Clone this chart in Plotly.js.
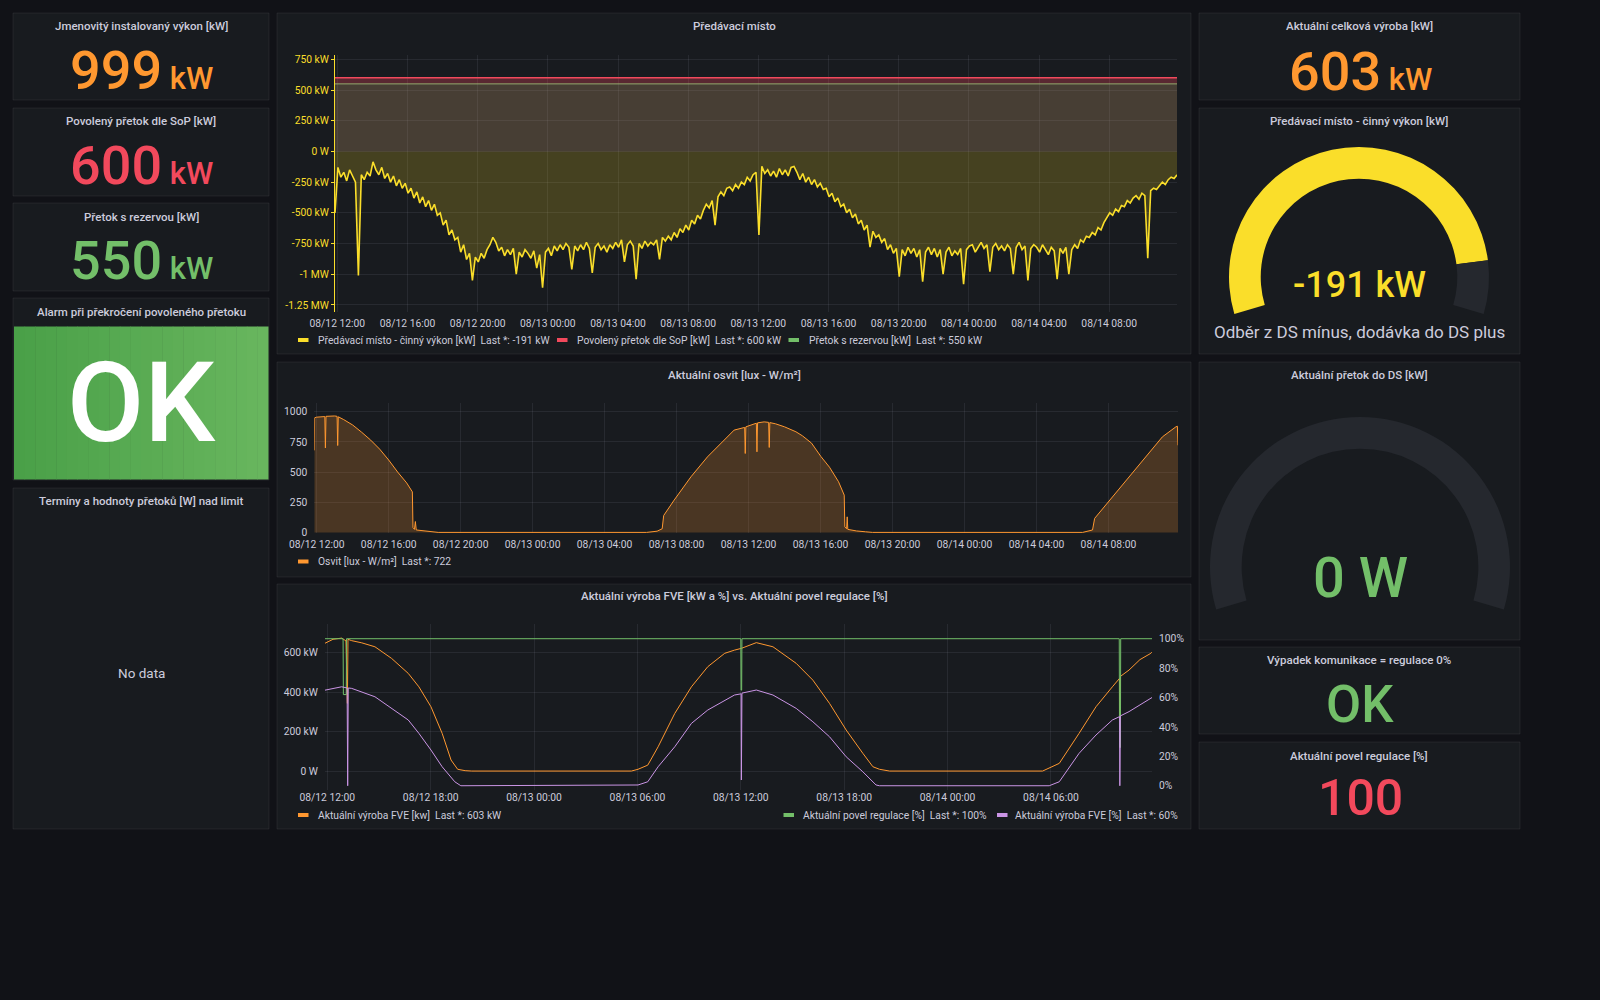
<!DOCTYPE html>
<html>
<head>
<meta charset="utf-8">
<script src="https://cdn.plot.ly/plotly-3.0.1.min.js"></script>
<style>
html,body{margin:0;padding:0;background:#111217;}
#chart{width:1600px;height:1000px;}
</style>
</head>
<body>
<div id="chart"></div>
<script>
// ---------------- DATA ----------------
const T_START = '2023-08-12 11:52';
const T_END = '2023-08-14 11:52';
const STEP_MIN = 10;

// Předávací místo - činný výkon [kW], one value every 10 minutes from T_START
const predavaciKw = [
 -500,-130,-210,-170,-240,-150,
 -200,-250,-1010,-190,-230,-170,
 -200,-85,-150,-190,-130,-220,
 -180,-250,-200,-280,-230,-300,
 -260,-340,-300,-380,-330,-420,
 -370,-450,-400,-480,-430,-520,
 -500,-600,-560,-680,-640,-720,
 -700,-820,-760,-880,-830,-1050,
 -860,-900,-830,-870,-800,-760,
 -700,-740,-810,-780,-850,-800,
 -840,-790,-1000,-820,-860,-800,
 -830,-870,-810,-950,-840,-1110,
 -820,-790,-850,-770,-810,-760,
 -800,-750,-780,-960,-770,-810,
 -760,-800,-740,-790,-990,-780,
 -750,-800,-770,-820,-760,-790,
 -740,-780,-720,-900,-760,-730,
 -770,-1040,-750,-790,-730,-770,
 -740,-760,-720,-880,-700,-730,
 -690,-720,-660,-700,-630,-660,
 -600,-640,-560,-590,-520,-550,
 -480,-430,-460,-400,-600,-370,
 -330,-360,-300,-290,-320,-270,
 -300,-250,-270,-210,-240,-190,
 -170,-680,-122,-180,-150,-200,
 -160,-210,-140,-190,-150,-200,
 -130,-122,-170,-230,-180,-250,
 -210,-270,-230,-290,-260,-310,
 -300,-370,-340,-410,-380,-450,
 -430,-500,-470,-540,-510,-590,
 -560,-640,-600,-780,-650,-700,
 -680,-740,-710,-800,-760,-830,
 -790,-1020,-800,-850,-780,-830,
 -790,-860,-800,-1060,-820,-780,
 -840,-790,-860,-800,-1000,-820,
 -780,-850,-810,-840,-790,-1080,
 -800,-770,-760,-820,-780,-740,
 -790,-760,-980,-780,-750,-800,
 -770,-810,-760,-790,-1000,-780,
 -740,-800,-770,-1050,-790,-760,
 -780,-820,-760,-800,-840,-780,
 -810,-1040,-790,-830,-780,-1000,
 -800,-760,-790,-720,-740,-690,
 -700,-660,-680,-620,-640,-580,
 -540,-500,-520,-470,-490,-440,
 -450,-400,-420,-380,-360,-390,
 -340,-360,-870,-320,-300,-310,
 -280,-250,-270,-230,-210,-220,
 -191
];
const limitTime = [T_START, T_END];
const povolenyKw = [600, 600];
const rezervaKw = [550, 550];

// Osvit [lux - W/m²]  (day-hour:minute of August 2023)
const osvitTime = [
 '12 11:52','12 11:53','12 12:00','12 12:27','12 12:29','12 12:31','12 13:00','12 13:08','12 13:10','12 13:12',
 '12 13:30','12 14:00','12 14:30','12 15:00','12 15:30','12 16:00','12 16:30','12 17:00','12 17:19','12 17:21',
 '12 17:26','12 17:29','12 17:32','12 18:00','12 18:30','12 18:45',
 '13 06:20','13 06:55','13 07:12','13 07:17','13 07:52','13 08:48','13 09:43','13 10:39','13 11:12','13 11:47',
 '13 11:49','13 11:51','13 12:26','13 12:28','13 12:30','13 12:52','13 13:07','13 13:09','13 13:11','13 13:30',
 '13 14:00','13 14:38','13 15:00','13 15:30','13 16:01','13 16:30','13 17:00','13 17:19','13 17:21','13 17:27',
 '13 17:29','13 17:31','13 18:00','13 18:30','13 18:53',
 '14 06:34','14 07:07','14 07:14','14 08:14','14 09:10','14 10:05','14 11:00','14 11:45','14 11:50','14 11:52'
];
const osvitValue = [
 680,950,955,960,700,962,965,962,720,958,
 935,890,830,765,690,600,500,410,336,40,
 25,90,20,12,5,0,
 0,10,30,140,268,461,626,765,848,870,
 654,875,905,668,908,916,912,704,910,900,
 875,834,800,740,630,540,420,309,46,30,
 129,25,12,5,0,
 0,20,116,295,461,626,792,875,880,722
];

// Aktuální výroba FVE [kW]
const fveTime = [
 '12 11:52','12 12:20','12 12:50','12 13:05','12 13:10','12 13:12','12 13:25','12 14:00','12 14:46','12 15:44',
 '12 16:42','12 17:19','12 18:01','12 18:40','12 19:11','12 19:34','12 20:00','12 20:23',
 '13 05:39','13 06:02','13 06:36','13 07:12','13 08:10','13 09:08','13 10:05','13 11:04','13 11:38','13 12:02',
 '13 12:54','13 13:52','13 15:13','13 16:11','13 17:09','13 18:07','13 19:05','13 19:40','13 20:03','13 20:38',
 '14 05:31','14 06:29','14 07:38','14 08:37','14 09:34','14 09:59','14 10:00','14 10:02','14 10:32','14 11:10',
 '14 11:48','14 11:52'
];
const fveKw = [
 648,668,674,660,343,668,661,650,630,571,
 495,427,326,191,56,9,2,0,
 0,9,30,123,292,427,529,597,613,622,
 651,630,546,461,343,208,90,22,9,0,
 0,39,191,326,427,470,150,480,512,565,
 597,603
];

// Aktuální povel regulace [%]
const povelTime = ['12 11:52','12 12:55','12 12:56','12 13:06','12 13:07','13 12:00','13 12:01','13 12:03','13 12:04','14 09:58','14 09:59','14 10:02','14 10:03','14 11:52'];
const povelPct = [100,100,62,62,100,100,65,65,100,100,26,26,100,100];

// Aktuální výroba FVE [%]
const fvePctTime = [
 '12 11:52','12 12:50','12 13:09','12 13:11','12 13:13','12 13:25','12 14:46','12 15:44','12 16:42','12 17:19',
 '12 18:01','12 18:40','12 19:24','12 19:45',
 '13 06:02','13 06:36','13 07:12','13 08:10','13 09:08','13 10:05','13 11:04','13 11:38','13 12:01','13 12:02',
 '13 12:04','13 12:36','13 12:54','13 13:52','13 15:13','13 16:11','13 17:09','13 18:07','13 19:05','13 19:51','13 20:03',
 '14 05:54','14 06:29','14 07:38','14 08:37','14 09:34','14 09:59','14 10:00','14 10:02','14 10:32','14 11:10',
 '14 11:48','14 11:52'
];
const fvePct = [
 65,67.3,66.5,0,66.5,66.2,60.5,52.6,44.7,35.6,
 24.3,12.9,2.7,0,
 0.5,2.7,12.9,26.5,42.4,51.5,58.3,61.7,62.5,3.9,
 63,64.4,65.1,61.7,52.6,43.5,33.3,19.7,9.5,0.5,0,
 0,2.7,22,34.5,44.7,47,0,47.5,50.4,55,
 59.5,60
];

// stat / gauge values
const statJmenovityKw = [999];
const statPovolenyKw = [600];
const statRezervaKw = [550];
const statCelkovaKw = [603];
const statPovelPct = [100];
const gaugePredavaci = {value: -191, min: -1700, max: 0};
const gaugePretok = {value: 0, min: 0, max: 600};

// x tick labels
const ticks4h = ['2023-08-12 12:00','2023-08-12 16:00','2023-08-12 20:00','2023-08-13 00:00','2023-08-13 04:00','2023-08-13 08:00','2023-08-13 12:00','2023-08-13 16:00','2023-08-13 20:00','2023-08-14 00:00','2023-08-14 04:00','2023-08-14 08:00'];
const ticks6h = ['2023-08-12 12:00','2023-08-12 18:00','2023-08-13 00:00','2023-08-13 06:00','2023-08-13 12:00','2023-08-13 18:00','2023-08-14 00:00','2023-08-14 06:00'];
const predTickVals = [-1250,-1000,-750,-500,-250,0,250,500,750];
const predTickText = ['-1.25 MW','-1 MW','-750 kW','-500 kW','-250 kW','0 W','250 kW','500 kW','750 kW'];
const fveTickVals = [0,200,400,600];
const fveTickText = ['0 W','200 kW','400 kW','600 kW'];
const pctTickVals = [0,20,40,60,80,100];
const pctTickText = ['0%','20%','40%','60%','80%','100%'];

// ---------------- HELPERS ----------------
const W = 1600, H = 1000;
const FONT = 'Roboto, "Noto Sans", sans-serif';
const PX = x => x / W;
const PY = y => 1 - y / H;
const full = d => '2023-08-' + d;
function addMin(s, m) {
  const d = new Date(s.replace(' ', 'T') + ':00Z');
  d.setUTCMinutes(d.getUTCMinutes() + m);
  return d.toISOString().slice(0, 16).replace('T', ' ');
}
const predavaciTime = predavaciKw.map((_, i) => addMin(T_START, i * STEP_MIN));
const last = a => a[a.length - 1];

const C = {
  bg: '#111217', panel: '#181b1f', border: 'rgba(204,204,220,0.08)',
  text: '#ccccdc', grid: 'rgba(204,204,220,0.09)',
  yellow: '#fade2a', red: '#f2495c', green: '#73bf69', orange: '#ff9830', purple: '#ca95e5',
  dark: '#25282e'
};

const shapes = [];
const annotations = [];
function rect(x0, y0, x1, y1, fill, line) {
  shapes.push({type: 'rect', xref: 'paper', yref: 'paper', layer: 'below',
    x0: PX(x0), x1: PX(x1), y0: PY(y1), y1: PY(y0), fillcolor: fill,
    line: {width: line ? 1 : 0, color: line || 'rgba(0,0,0,0)'}});
}
function txt(x, y, text, size, color, weight, xanchor) {
  annotations.push({xref: 'paper', yref: 'paper', x: PX(x), y: PY(y), text: text, showarrow: false,
    xanchor: xanchor || 'center', yanchor: 'middle',
    font: {family: FONT, size: size, color: color, weight: weight || 400}});
}
function legendItem(xDash, xText, y, color, text) {
  rect(xDash, y - 2, xDash + 10.5, y + 2, color);
  txt(xText, y, text, 10.3, C.text, 400, 'left');
}
const SP = '\u00a0\u00a0';

// ---------------- PANELS ----------------
const panels = [
  [13, 13, 269, 100], [13, 108, 269, 196], [13, 203, 269, 291], [13, 298, 269, 480], [13, 488, 269, 829],
  [277, 13, 1191, 354], [277, 362, 1191, 577], [277, 584, 1191, 829],
  [1199, 13, 1520, 100], [1199, 108, 1520, 354], [1199, 362, 1520, 640], [1199, 647, 1520, 734], [1199, 742, 1520, 829]
];
panels.forEach(p => rect(p[0], p[1], p[2], p[3], C.panel, C.border));

// alarm green box (gradient strips)
const STRIPS = 24;
for (let i = 0; i < STRIPS; i++) {
  const t = i / (STRIPS - 1);
  const r = Math.round(74 + t * (104 - 74)), g = Math.round(160 + t * (182 - 160)), b = Math.round(72 + t * (94 - 72));
  const x0 = 14 + (268 - 14) * i / STRIPS, x1 = 14 + (268 - 14) * (i + 1) / STRIPS + 0.5;
  rect(x0, 326.5, x1, 479.5, `rgb(${r},${g},${b})`);
}

// titles
const TS = 11.5;
txt(141, 26.5, 'Jmenovitý instalovaný výkon [kW]', TS, C.text, 500);
txt(141, 121.5, 'Povolený přetok dle SoP [kW]', TS, C.text, 500);
txt(141, 216.5, 'Přetok s rezervou [kW]', TS, C.text, 500);
txt(141, 311.5, 'Alarm při překročení povoleného přetoku', TS, C.text, 500);
txt(141, 501.5, 'Termíny a hodnoty přetoků [W] nad limit', TS, C.text, 500);
txt(734, 26.5, 'Předávací místo', TS, C.text, 500);
txt(734, 375, 'Aktuální osvit [lux - W/m²]', TS, C.text, 500);
txt(734, 596, 'Aktuální výroba FVE [kW a %] vs. Aktuální povel regulace [%]', TS, C.text, 500);
txt(1359, 26.5, 'Aktuální celková výroba [kW]', TS, C.text, 500);
txt(1359, 121.5, 'Předávací místo - činný výkon [kW]', TS, C.text, 500);
txt(1359, 375, 'Aktuální přetok do DS [kW]', TS, C.text, 500);
txt(1359, 660, 'Výpadek komunikace = regulace 0%', TS, C.text, 500);
txt(1359, 755.5, 'Aktuální povel regulace [%]', TS, C.text, 500);

// stat values
const unit = u => `<span style="font-size:31px"> ${u}</span>`;
txt(141, 70, `${statJmenovityKw[0]}${unit('kW')}`, 54, C.orange, 500);
txt(141, 165, `${statPovolenyKw[0]}${unit('kW')}`, 54, C.red, 500);
txt(141, 260, `${statRezervaKw[0]}${unit('kW')}`, 54, C.green, 500);
txt(1360, 72, `${statCelkovaKw[0]}${unit('kW')}`, 54, C.orange, 500);
txt(141, 402, 'OK', 112, '#ffffff', 500);
txt(141, 672.5, 'No data', 13.5, C.text, 400);
txt(1360, 704, 'OK', 51, C.green, 500);
txt(1360, 798, String(statPovelPct[0]), 50, C.red, 500);
txt(1359, 285, `${gaugePredavaci.value} kW`, 36, C.yellow, 500);
txt(1359, 331.5, 'Odběr z DS mínus, dodávka do DS plus', 17, C.text, 400);
txt(1360, 578, `${gaugePretok.value} W`, 56, C.green, 500);

// legends
legendItem(298, 315.5, 340, C.yellow, `Předávací místo - činný výkon [kW]${SP}Last *: ${last(predavaciKw)} kW`);
legendItem(557, 575, 340, C.red, `Povolený přetok dle SoP [kW]${SP}Last *: ${last(povolenyKw)} kW`);
legendItem(788.5, 807, 340, C.green, `Přetok s rezervou [kW]${SP}Last *: ${last(rezervaKw)} kW`);
legendItem(298, 315.5, 561.5, C.orange, `Osvit [lux - W/m²]${SP}Last *: ${last(osvitValue)}`);
legendItem(298, 315.5, 815, C.orange, `Aktuální výroba FVE [kw]${SP}Last *: ${last(fveKw)} kW`);
legendItem(783.5, 801, 815, C.green, `Aktuální povel regulace [%]${SP}Last *: ${last(povelPct)}%`);
legendItem(997, 1013, 815, C.purple, `Aktuální výroba FVE [%]${SP}Last *: ${last(fvePct)}%`);

// ---------------- TRACES ----------------
const traces = [];
// top chart
traces.push({type: 'scatter', mode: 'lines', x: predavaciTime, y: predavaciKw, xaxis: 'x', yaxis: 'y',
  line: {color: C.yellow, width: 1.6}, fill: 'tozeroy', fillcolor: 'rgba(250,222,42,0.2)', hoverinfo: 'skip'});
traces.push({type: 'scatter', mode: 'lines', x: limitTime, y: rezervaKw, xaxis: 'x', yaxis: 'y',
  line: {color: 'rgba(160,190,120,0.85)', width: 1}, fill: 'tozeroy', fillcolor: 'rgba(200,160,110,0.27)', hoverinfo: 'skip'});
traces.push({type: 'scatter', mode: 'lines', x: limitTime, y: povolenyKw, xaxis: 'x', yaxis: 'y',
  line: {color: C.red, width: 1.5}, fill: 'tonexty', fillcolor: 'rgba(242,73,92,0.3)', hoverinfo: 'skip'});
// middle chart
traces.push({type: 'scatter', mode: 'lines', x: osvitTime.map(full), y: osvitValue, xaxis: 'x2', yaxis: 'y2',
  line: {color: C.orange, width: 1}, fill: 'tozeroy', fillcolor: 'rgba(255,152,48,0.22)', hoverinfo: 'skip'});
// bottom chart
traces.push({type: 'scatter', mode: 'lines', x: povelTime.map(full), y: povelPct, xaxis: 'x3', yaxis: 'y4',
  line: {color: C.green, width: 1}, hoverinfo: 'skip'});
traces.push({type: 'scatter', mode: 'lines', x: fvePctTime.map(full), y: fvePct, xaxis: 'x3', yaxis: 'y4',
  line: {color: C.purple, width: 1}, hoverinfo: 'skip'});
traces.push({type: 'scatter', mode: 'lines', x: fveTime.map(full), y: fveKw, xaxis: 'x3', yaxis: 'y3',
  line: {color: C.orange, width: 1}, hoverinfo: 'skip'});

// gauges (donut arcs)
function gauge(g, color, cx, cy, r, hole) {
  const ARC = 213, GAP = 360 - ARC;
  const f = Math.max(0, Math.min(1, (g.value - g.min) / (g.max - g.min)));
  return {type: 'pie', values: [f * ARC, (1 - f) * ARC, GAP], sort: false, direction: 'clockwise',
    rotation: -106.5, hole: hole, textinfo: 'none', hoverinfo: 'skip', showlegend: false,
    marker: {colors: [color, C.dark, 'rgba(0,0,0,0)'], line: {width: 0}},
    domain: {x: [PX(cx - r), PX(cx + r)], y: [PY(cy + r), PY(cy - r)]}};
}
traces.push(gauge(gaugePredavaci, C.yellow, 1359, 277, 130, 0.756));
traces.push(gauge(gaugePretok, C.green, 1360, 567, 150, 0.789));

// ---------------- AXES ----------------
const tickFont = {family: FONT, size: 10.3, color: C.text};
function xAxis(x0, x1, tickvals, anchor, tl) {
  return {domain: [PX(x0), PX(x1)], anchor: anchor, type: 'date', range: [T_START, T_END],
    tickvals: tickvals, tickformat: '%m/%d %H:%M', tickfont: tickFont, showgrid: true, gridcolor: C.grid,
    zeroline: false, showline: false, ticks: tl > 0 ? 'outside' : '', ticklen: tl, tickcolor: 'rgba(0,0,0,0)', fixedrange: true};
}

const layout = {
  width: W, height: H, margin: {l: 0, r: 0, t: 0, b: 0},
  paper_bgcolor: C.bg, plot_bgcolor: 'rgba(0,0,0,0)', showlegend: false,
  font: {family: FONT, color: C.text},
  xaxis: xAxis(335, 1177, ticks4h, 'y', 2),
  yaxis: {domain: [PY(311.7), PY(55)], anchor: 'x', range: [-1305, 785], tickvals: predTickVals, ticktext: predTickText,
    tickfont: {family: FONT, size: 10.3, color: C.yellow}, showgrid: true, gridcolor: C.grid, zeroline: false,
    showline: true, linecolor: C.yellow, linewidth: 1, ticks: 'outside', ticklen: 3, tickcolor: C.yellow},
  xaxis2: xAxis(314.3, 1178, ticks4h, 'y2', 2),
  yaxis2: {domain: [PY(533), PY(403.3)], anchor: 'x2', range: [-5, 1070], tickvals: [0, 250, 500, 750, 1000],
    tickfont: tickFont, showgrid: true, gridcolor: C.grid, zeroline: false, showline: false,
    ticks: 'outside', ticklen: 4, tickcolor: 'rgba(0,0,0,0)'},
  xaxis3: xAxis(325, 1152, ticks6h, 'y3', 0),
  yaxis3: {domain: [PY(790), PY(624.3)], anchor: 'x3', range: [-96, 744], tickvals: fveTickVals, ticktext: fveTickText,
    tickfont: tickFont, showgrid: true, gridcolor: C.grid, zeroline: false, showline: false,
    ticks: 'outside', ticklen: 4, tickcolor: 'rgba(0,0,0,0)'},
  yaxis4: {overlaying: 'y3', side: 'right', anchor: 'x3', range: [-2.9, 109.8], tickvals: pctTickVals, ticktext: pctTickText,
    tickfont: tickFont, showgrid: false, zeroline: false, showline: false,
    ticks: 'outside', ticklen: 4, tickcolor: 'rgba(0,0,0,0)'},
  shapes: shapes,
  annotations: annotations
};

Plotly.newPlot('chart', traces, layout, {staticPlot: true, displayModeBar: false});
</script>
</body>
</html>
